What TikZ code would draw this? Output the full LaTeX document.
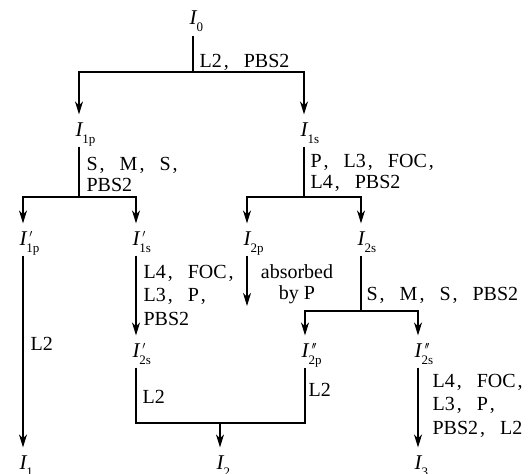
\documentclass[tikz,border=0pt]{standalone}
\usepackage{fontspec}
\setmainfont{Liberation Serif}
\usetikzlibrary{arrows.meta}
% intensité : I, indice et prime
\newcommand{\In}[2]{{\fontsize{21}{21}\selectfont\itshape I}\rlap{\fontsize{13}{13}\selectfont\raisebox{-7pt}{#1}}\rlap{\kern3pt\raisebox{8pt}{\fontsize{10.5}{10.5}\selectfont#2}}}
\newcommand{\pa}{$\prime$}
\newcommand{\pb}{$\prime\mkern-2mu\prime$}
% virgule pleine chasse
\newcommand{\cma}{\kern0.1em,\hspace{0.75em}}
\newcommand{\cmz}{\kern0.1em,}
\begin{document}
\begin{tikzpicture}[x=1pt,y=-1pt,line width=1.2pt,font=\fontsize{20}{21}\selectfont]
\tikzstyle{inten}=[inner sep=0pt,text height=21pt,text depth=10pt,anchor=base]
\tikzstyle{lbl}=[inner sep=0pt,anchor=base west,align=left,font=\fontsize{20}{21}\selectfont]
\tikzstyle{lbl3}=[lbl,font=\fontsize{20}{23.5}\selectfont]
\tikzstyle{fleche}=[-{Stealth[length=13pt,width=8pt,inset=4pt]}]
\useasboundingbox (0,0) rectangle (529,473);

%intensités
\node[inten] (I0) at (193,25) {\In{0}{}};
\node[inten] (I1p) at (79,136) {\In{1p}{}};
\node[inten] (I1s) at (304,136) {\In{1s}{}};
\node[inten] (I1pp) at (23,245) {\In{1p}{\pa}};
\node[inten] (I1sp) at (136,245) {\In{1s}{\pa}};
\node[inten] (I2p) at (247,245) {\In{2p}{}};
\node[inten] (I2s) at (361,245) {\In{2s}{}};
\node[inten] (I2sp) at (136,357) {\In{2s}{\pa}};
\node[inten] (I2ppp) at (305,357) {\In{2p}{\pb}};
\node[inten] (I2spp) at (418,357) {\In{2s}{\pb}};
\node[inten] (I1) at (23,469) {\In{1}{}};
\node[inten] (I2) at (220,469) {\In{2}{}};
\node[inten] (I3) at (418,469) {\In{3}{}};

%points de branchement
\coordinate (b0) at (193,72);
\coordinate (b1) at (79,197);
\coordinate (b2) at (304,197);
\coordinate (b3) at (361,311);
\coordinate (b4) at (220,423);
\coordinate (abs) at (247,306);

%connecteurs
\draw (I0) -- (b0);
\draw[fleche] (b0) -| (I1p);
\draw[fleche] (b0) -| (I1s);
\draw (I1p) -- (b1);
\draw[fleche] (b1) -| (I1pp);
\draw[fleche] (b1) -| (I1sp);
\draw (I1s) -- (b2);
\draw[fleche] (b2) -| (I2p);
\draw[fleche] (b2) -| (I2s);
\draw[fleche] (I1pp) -- (I1);
\draw[fleche] (I1sp) -- (I2sp);
\draw[fleche] (I2p) -- (abs);
\draw (I2s) -- (b3);
\draw[fleche] (b3) -| (I2ppp);
\draw[fleche] (b3) -| (I2spp);
\draw (I2sp) |- (b4) -| (I2ppp);
\draw[fleche] (b4) -- (I2);
\draw[fleche] (I2spp) -- (I3);

%composants (base = dernière ligne)
\node[lbl] (t0) at (199,68) {L2\cma PBS2};
\node[lbl] (t1) at (86,191) {S\cma M\cma S\cmz\\PBS2};
\node[lbl] (t2) at (310,188) {P\cma L3\cma FOC\cmz\\L4\cma PBS2};
\node[lbl3] (t3) at (143,325) {L4\cma FOC\cmz\\L3\cma P\cmz\\PBS2};
\node[lbl,anchor=base,align=center] (t4) at (297,299) {absorbed\\by P};
\node[lbl] (t5) at (366,300) {S\cma M\cma S\cma PBS2};
\node[lbl] (t6) at (30,350) {L2};
\node[lbl] (t7) at (142,403) {L2};
\node[lbl] (t8) at (308,396) {L2};
\node[lbl3] (t9) at (432,434) {L4\cma FOC\cmz\\L3\cma P\cmz\\PBS2\cma L2};
\end{tikzpicture}
\end{document}
